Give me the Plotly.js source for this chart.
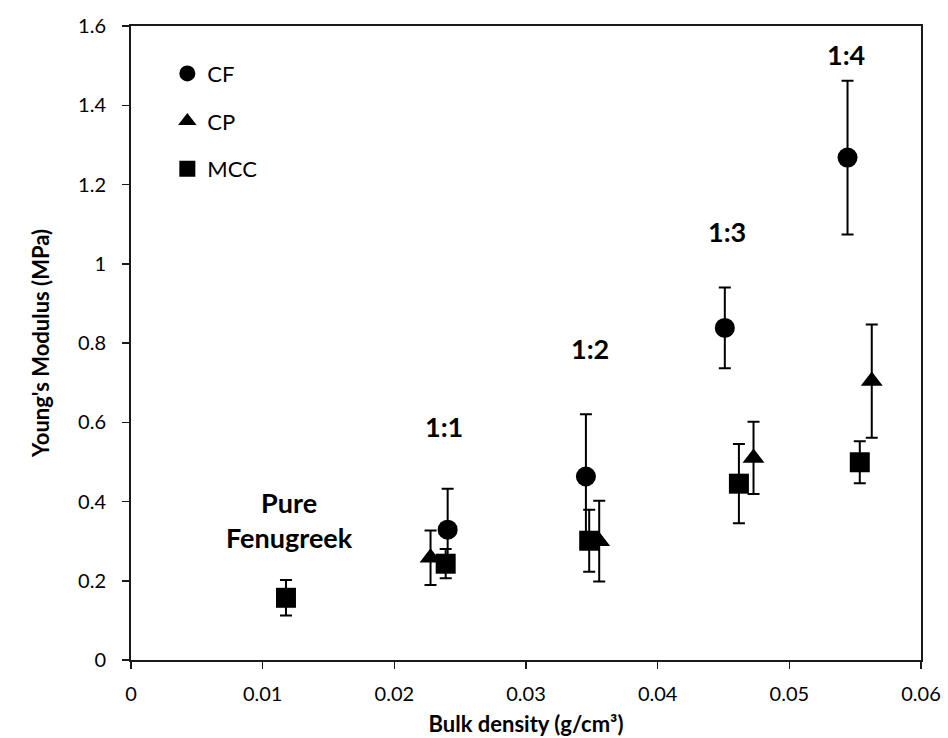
<!DOCTYPE html>
<html>
<head>
<meta charset="utf-8">
<script src="https://cdn.plot.ly/plotly-3.0.1.min.js"></script>
<style>
  html, body { margin: 0; padding: 0; background: #ffffff; }
  #chart { width: 948px; height: 738px; }
</style>
</head>
<body>
<div id="chart"></div>
<script>
// ---- Data ----
const seriesNames = ["CF", "CP", "MCC"];

const cfX   = [0.02405, 0.03455, 0.0451, 0.05442];
const cfY   = [0.329, 0.463, 0.838, 1.268];
const cfErr = [0.103, 0.157, 0.102, 0.194];

const cpX   = [0.02275, 0.03556, 0.04728, 0.05626];
const cpY   = [0.258, 0.300, 0.510, 0.704];
const cpErr = [0.069, 0.102, 0.091, 0.143];

const mccX   = [0.01177, 0.0239, 0.0348, 0.04617, 0.05535];
const mccY   = [0.157, 0.243, 0.301, 0.445, 0.499];
const mccErr = [0.045, 0.037, 0.078, 0.100, 0.053];

const labelTexts = ["Pure<br>Fenugreek", "1:1", "1:2", "1:3", "1:4"];
const labelX = [0.01203, 0.02377, 0.03486, 0.04525, 0.05429];
const labelY = [0.354, 0.589, 0.786, 1.082, 1.527];

const xTickVals = [0, 0.01, 0.02, 0.03, 0.04, 0.05, 0.06];
const xTickText = ["0", "0.01", "0.02", "0.03", "0.04", "0.05", "0.06"];
const yTickVals = [0, 0.2, 0.4, 0.6, 0.8, 1.0, 1.2, 1.4, 1.6];
const yTickText = ["0", "0.2", "0.4", "0.6", "0.8", "1", "1.2", "1.4", "1.6"];

// ---- Styling ----
const FONT = "Lato, 'Open Sans', 'Liberation Sans', sans-serif";
const INK = "#000000";

function errStyle(arr) {
  return { type: "data", array: arr, visible: true, color: INK, thickness: 2, width: 6 };
}

const traces = [
  {
    name: seriesNames[0], x: cfX, y: cfY, type: "scatter", mode: "markers",
    legendgroup: "a",
    marker: { symbol: "circle", size: 20, color: INK },
    error_y: errStyle(cfErr)
  },
  {
    name: seriesNames[1], x: cpX, y: cpY, type: "scatter", mode: "markers",
    legendgroup: "b",
    marker: { symbol: "triangle-up", size: 19, color: INK },
    error_y: errStyle(cpErr)
  },
  {
    name: seriesNames[2], x: mccX, y: mccY, type: "scatter", mode: "markers",
    legendgroup: "c",
    marker: { symbol: "square", size: 20, color: INK },
    error_y: errStyle(mccErr)
  }
];

const annotations = labelTexts.map((t, i) => ({
  x: labelX[i], y: labelY[i], xref: "x", yref: "y",
  text: "<b>" + t + "</b>", showarrow: false,
  xanchor: "center", yanchor: "middle", align: "center",
  font: { family: FONT, size: 27, color: INK }
}));

const layout = {
  width: 948, height: 738,
  margin: { l: 131, r: 27, t: 26, b: 78, pad: 0 },
  paper_bgcolor: "#ffffff", plot_bgcolor: "#ffffff",
  font: { family: FONT, color: INK },
  showlegend: true,
  legend: {
    x: 0.046, y: 0.958, xanchor: "left", yanchor: "top",
    bgcolor: "rgba(0,0,0,0)", borderwidth: 0,
    font: { family: FONT, size: 22, color: INK },
    traceorder: "grouped", tracegroupgap: 16
  },
  xaxis: {
    range: [0, 0.06], tickvals: xTickVals, ticktext: xTickText,
    showgrid: false, zeroline: false,
    showline: true, linecolor: "#1a1a1a", linewidth: 2, mirror: true,
    ticks: "outside", ticklen: 7, tickwidth: 1.5, tickcolor: "#1a1a1a",
    ticklabelstandoff: 8,
    tickfont: { family: FONT, size: 20, color: INK },
    title: { text: "<b>Bulk density (g/cm³)</b>", font: { family: FONT, size: 22, color: INK }, standoff: 13 },
    automargin: false
  },
  yaxis: {
    range: [0, 1.6], tickvals: yTickVals, ticktext: yTickText,
    showgrid: false, zeroline: false,
    showline: true, linecolor: "#1a1a1a", linewidth: 2, mirror: true,
    ticks: "outside", ticklen: 7, tickwidth: 1.5, tickcolor: "#1a1a1a",
    ticklabelstandoff: 12,
    tickfont: { family: FONT, size: 20, color: INK },
    title: { text: "<b>Young's Modulus (MPa)</b>", font: { family: FONT, size: 22, color: INK }, standoff: 22 },
    automargin: false
  },
  annotations: annotations
};

Plotly.newPlot("chart", traces, layout, { displayModeBar: false, staticPlot: true });
</script>
</body>
</html>
